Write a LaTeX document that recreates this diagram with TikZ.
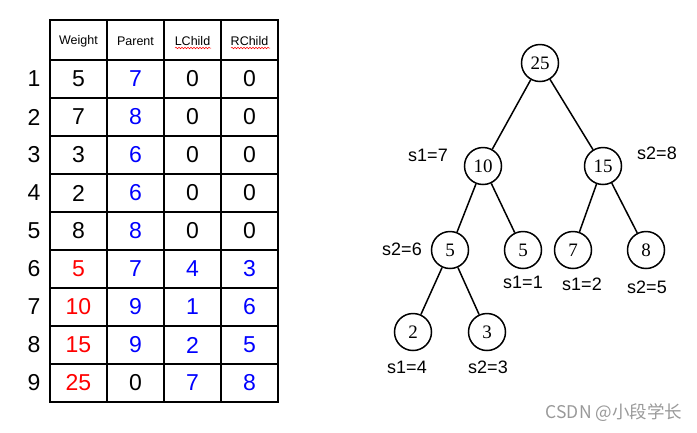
\documentclass[tikz,border=0pt]{standalone}
\usepackage{fontspec}
\setmainfont{Liberation Sans}
\newfontfamily\treefont{Liberation Serif}
\newfontfamily\cjk{Noto Sans CJK SC}
\usetikzlibrary{decorations.pathmorphing}

\begin{document}
\begin{tikzpicture}[x=1pt, y=-1pt,
        main/.style = {draw, circle, line width=1.5pt, minimum size=37pt, inner sep=0pt, font=\treefont\fontsize{19}{19}\selectfont},
        cell/.style = {font=\fontsize{23}{23}\selectfont},
        head/.style = {font=\fontsize{12.5}{13}\selectfont},
        lab/.style = {font=\fontsize{18}{18}\selectfont},
        wavy/.style = {red, line width=0.5pt, decorate, decoration={snake, amplitude=0.8pt, segment length=3pt}}]
    \useasboundingbox (0,0) rectangle (697,432);

    % table
    \foreach \x in {50,107,164,221,278}
        \draw[line width=2pt] (\x,20) -- (\x,402);
    \foreach \y in {20,60,98,...,402}
        \draw[line width=2pt] (49,\y) -- (279,\y);
    \node[head] (hw) at (78.5,41) {Weight};
    \node[head] (hp) at (135.5,41) {Parent};
    \node[head] (hl) at (192.5,41) {LChild};
    \node[head] (hr) at (249.5,41) {RChild};
    \draw[wavy] (175,48) -- (211,48);
    \draw[wavy] (231,48) -- (270,48);
    \foreach \i/\w/\wc/\p/\pc/\l/\lc/\r/\rc in {
            1/5/black/7/blue/0/black/0/black,
            2/7/black/8/blue/0/black/0/black,
            3/3/black/6/blue/0/black/0/black,
            4/2/black/6/blue/0/black/0/black,
            5/8/black/8/blue/0/black/0/black,
            6/5/red/7/blue/4/blue/3/blue,
            7/10/red/9/blue/1/blue/6/blue,
            8/15/red/9/blue/2/blue/5/blue,
            9/25/red/0/black/7/blue/8/blue} {
        \node[cell] (r\i) at (34,{41+38*\i}) {\i};
        \node[cell, text=\wc] (w\i) at (78.5,{41+38*\i}) {\w};
        \node[cell, text=\pc] (p\i) at (135.5,{41+38*\i}) {\p};
        \node[cell, text=\lc] (l\i) at (192.5,{41+38*\i}) {\l};
        \node[cell, text=\rc] (c\i) at (249.5,{41+38*\i}) {\r};
    }

    % tree
    \node[main] (n25) at (540,63) {25};
    \node[main] (n10) at (483,166) {10};
    \node[main] (n15) at (603,166) {15};
    \node[main] (n5a) at (450,250) {5};
    \node[main] (n5b) at (523,250) {5};
    \node[main] (n7) at (573,250) {7};
    \node[main] (n8) at (646,250) {8};
    \node[main] (n2) at (413,332) {2};
    \node[main] (n3) at (487,332) {3};
    \draw[line width=1.5pt] (n25) -- (n10);
    \draw[line width=1.5pt] (n25) -- (n15);
    \draw[line width=1.5pt] (n10) -- (n5a);
    \draw[line width=1.5pt] (n10) -- (n5b);
    \draw[line width=1.5pt] (n15) -- (n7);
    \draw[line width=1.5pt] (n15) -- (n8);
    \draw[line width=1.5pt] (n5a) -- (n2);
    \draw[line width=1.5pt] (n5a) -- (n3);

    \node[lab] (s10) at (428,155) {s1=7};
    \node[lab] (s15) at (657,153) {s2=8};
    \node[lab] (s5a) at (402,249) {s2=6};
    \node[lab] (s5b) at (523,282) {s1=1};
    \node[lab] (s7) at (582,284) {s1=2};
    \node[lab] (s8) at (647,287) {s2=5};
    \node[lab] (s2) at (407,367) {s1=4};
    \node[lab] (s3) at (488,367) {s2=3};

    \node[text=black!40, font=\cjk\fontsize{17.5}{17.5}\selectfont] (mark) at (614,413) {CSDN @小段学长};
\end{tikzpicture}
\end{document}
